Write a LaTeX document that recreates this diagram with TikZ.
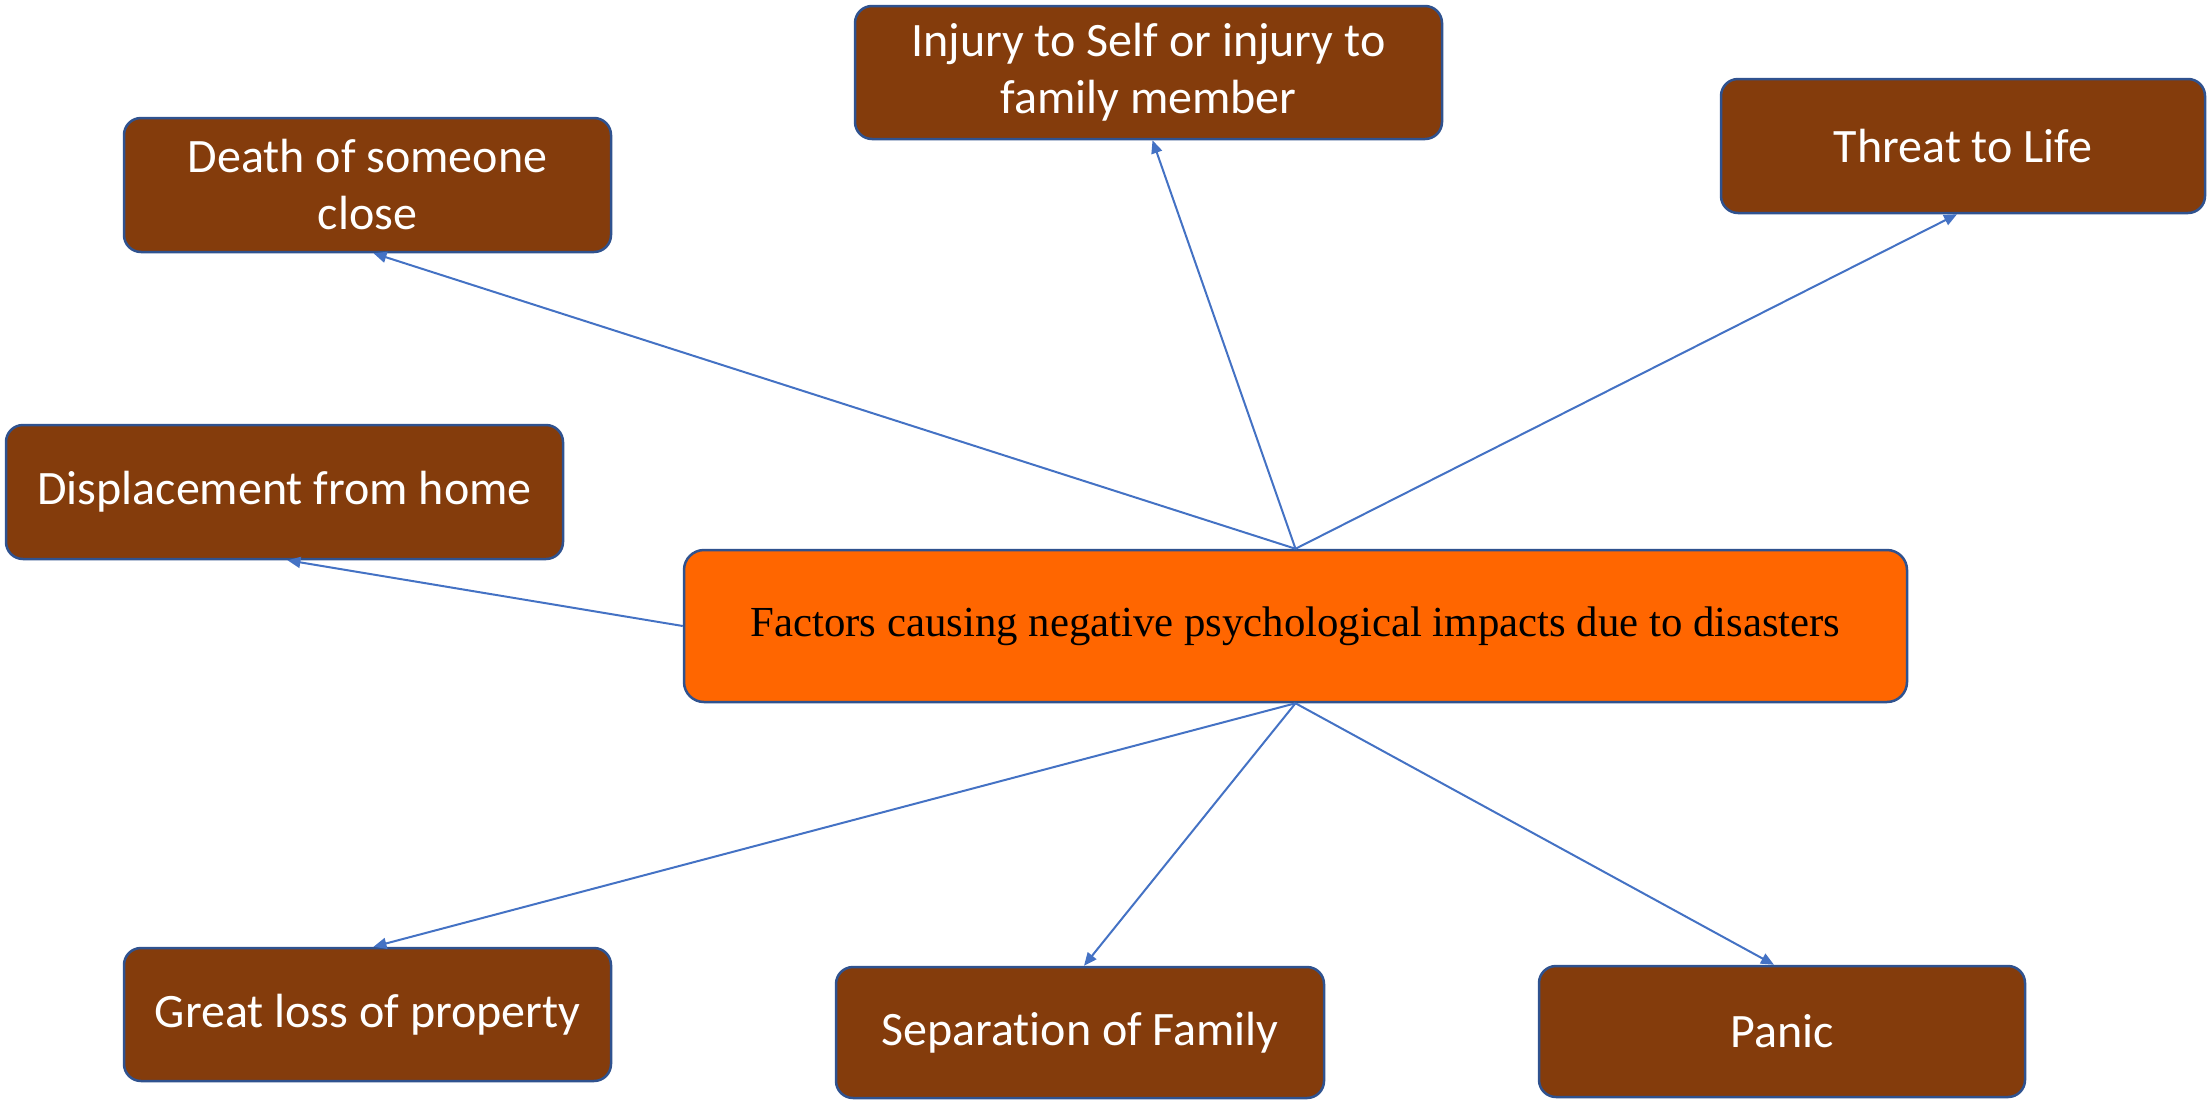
\documentclass[tikz,border=0pt]{standalone}
\usepackage{fontspec}
\setmainfont{Liberation Serif}
\newfontfamily\childfont[Ligatures=NoCommon]{Carlito}
\usetikzlibrary{arrows.meta}
\definecolor{boxbrown}{HTML}{843C0C}
\definecolor{boxedge}{HTML}{2F528F}
\definecolor{centerorange}{HTML}{FF6600}
\definecolor{arrowblue}{HTML}{4472C4}
\tikzset{
  childbox/.style={draw=boxedge, line width=2.5pt, fill=boxbrown, rounded corners=17pt,
    text=white, align=center, inner sep=0pt, font=\childfont\fontsize{48}{57}\selectfont},
  centerbox/.style={draw=boxedge, line width=2.5pt, fill=centerorange, rounded corners=20pt,
    text=black, align=center, inner sep=0pt, font=\fontsize{42.8}{50}\selectfont},
  link/.style={draw=arrowblue, line width=2pt, -{Triangle[length=13pt,width=11pt]}}
}
\begin{document}
\begin{tikzpicture}[x=1pt,y=-1pt]
\useasboundingbox (0,0) rectangle (2208,1101);
% central
\node[centerbox, minimum width=1223pt, minimum height=152pt] (c) at (1295.5,626) {Factors causing negative psychological impacts due to disasters};
% children
\node[childbox, minimum width=487pt, minimum height=134pt] (death) at (367.5,185) {Death of someone\\close};
\node[childbox, minimum width=587pt, minimum height=133pt] (injury) at (1148.5,72.5) {Injury to Self or injury to\\family member};
\node[childbox, minimum width=484pt, minimum height=134pt] (threat) at (1963,146) {Threat to Life};
\node[childbox, minimum width=557pt, minimum height=134pt] (displ) at (284.5,492) {Displacement from home};
\node[childbox, minimum width=487pt, minimum height=133pt] (loss) at (367.5,1014.5) {Great loss of property};
\node[childbox, minimum width=488pt, minimum height=131pt] (sep) at (1080,1032.5) {Separation of Family};
\node[childbox, minimum width=486pt, minimum height=131pt] (panic) at (1782,1031.5) {Panic};
% connectors
\draw[link] (c.north) -- ([xshift=6pt]death.south);
\draw[link] (c.north) -- ([xshift=4pt]injury.south);
\draw[link] (c.north) -- ([xshift=-6pt]threat.south);
\draw[link] (c.west) -- ([xshift=3pt]displ.south);
\draw[link] (c.south) -- ([xshift=6pt]loss.north);
\draw[link] (c.south) -- ([xshift=4pt]sep.north);
\draw[link] (c.south) -- ([xshift=-8pt]panic.north);
\end{tikzpicture}
\end{document}
